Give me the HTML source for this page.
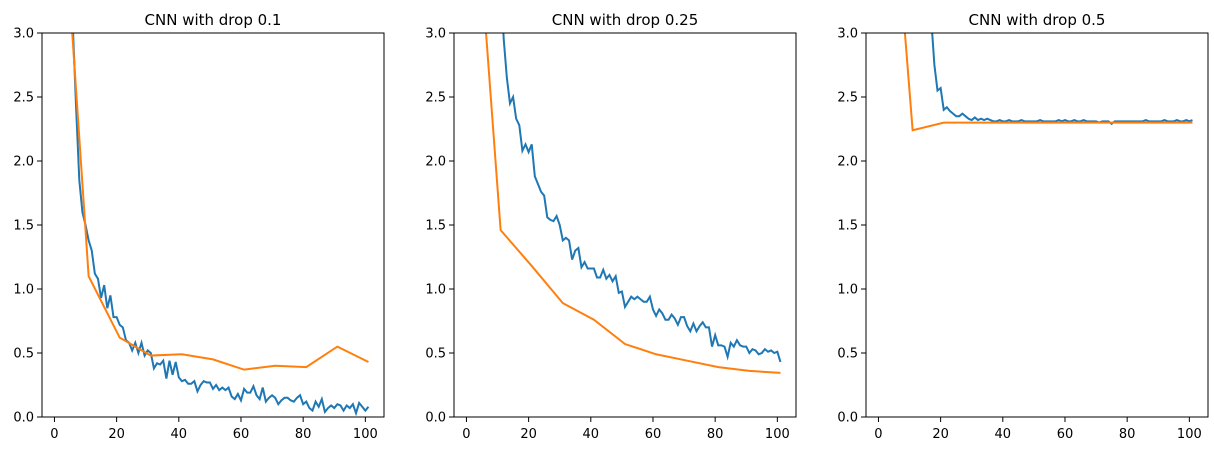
<!DOCTYPE html>
<html><head><meta charset="utf-8"><style>
body{margin:0;background:#fff}
svg text{font-family:"DejaVu Sans","Liberation Sans",sans-serif;fill:#000}
</style></head><body>
<svg id="fig" width="1214" height="451" xmlns="http://www.w3.org/2000/svg"></svg>
<script>
const titles = ["CNN with drop 0.1","CNN with drop 0.25","CNN with drop 0.5"];
const xTicks = [0,20,40,60,80,100];
const yTicks = [0,0.5,1.0,1.5,2.0,2.5,3.0];
const valX = [1,11,21,31,41,51,61,71,81,91,101];
const val1 = [4.7,1.1,0.62,0.48,0.49,0.45,0.37,0.40,0.39,0.55,0.43];
const val2 = [4.74,1.46,1.18,0.89,0.76,0.57,0.49,0.44,0.39,0.36,0.345];
const val3 = [5.3,2.24,2.30,2.30,2.30,2.30,2.30,2.30,2.30,2.30,2.30];
const train1 = [7,6,5,4,3.3,3.0,2.4,1.85,1.6,1.5,1.38,1.3,1.12,1.08,0.93,1.03,0.85,0.95,0.78,0.78,0.72,0.7,0.6,0.58,0.52,0.58,0.5,0.58,0.48,0.52,0.5,0.38,0.42,0.41,0.44,0.3,0.44,0.33,0.43,0.31,0.28,0.29,0.26,0.26,0.28,0.2,0.25,0.28,0.27,0.27,0.22,0.25,0.21,0.23,0.21,0.23,0.16,0.14,0.18,0.13,0.22,0.19,0.19,0.24,0.17,0.14,0.23,0.12,0.15,0.17,0.15,0.1,0.13,0.15,0.15,0.13,0.12,0.15,0.17,0.1,0.12,0.07,0.05,0.12,0.08,0.14,0.04,0.07,0.09,0.07,0.1,0.09,0.05,0.09,0.07,0.1,0.03,0.11,0.08,0.05,0.08];
const train2 = [9,8,7,6.5,6,5.5,5,4.6,4.2,3.8,3.4,2.95,2.65,2.45,2.5,2.33,2.28,2.08,2.13,2.07,2.13,1.88,1.82,1.76,1.73,1.56,1.54,1.53,1.57,1.5,1.38,1.4,1.38,1.23,1.3,1.32,1.17,1.21,1.16,1.16,1.16,1.09,1.09,1.15,1.08,1.11,1.06,1.1,0.97,0.98,0.86,0.9,0.94,0.92,0.94,0.92,0.9,0.9,0.94,0.84,0.79,0.84,0.81,0.76,0.76,0.8,0.77,0.72,0.78,0.78,0.71,0.67,0.73,0.67,0.71,0.74,0.7,0.7,0.55,0.64,0.56,0.56,0.55,0.47,0.58,0.55,0.6,0.56,0.55,0.55,0.5,0.53,0.52,0.49,0.5,0.53,0.51,0.52,0.5,0.51,0.43];
const train3 = [12,11,10,9.5,9,8.5,8,7.5,7,6.5,6,5.5,5,4.5,4,3.6,3.1,2.75,2.55,2.57,2.4,2.42,2.39,2.37,2.35,2.35,2.37,2.35,2.33,2.32,2.34,2.32,2.33,2.32,2.33,2.32,2.31,2.31,2.32,2.31,2.31,2.32,2.31,2.31,2.31,2.32,2.31,2.31,2.31,2.31,2.31,2.32,2.31,2.31,2.31,2.31,2.31,2.32,2.31,2.32,2.31,2.31,2.32,2.31,2.31,2.32,2.31,2.31,2.31,2.31,2.30,2.31,2.31,2.31,2.29,2.31,2.31,2.31,2.31,2.31,2.31,2.31,2.31,2.31,2.31,2.32,2.31,2.31,2.31,2.31,2.31,2.32,2.31,2.31,2.31,2.32,2.31,2.31,2.32,2.31,2.32];
const trains=[train1,train2,train3], vals=[val1,val2,val3];
const NS="http://www.w3.org/2000/svg", svgEl=document.getElementById('fig');
function mk(t,a,p){const e=document.createElementNS(NS,t);for(const k in a)e.setAttribute(k,a[k]);(p||svgEl).appendChild(e);return e;}
const lefts=[42,454,866], W=342, TOP=33, BOT=417;
for(let i=0;i<3;i++){
  const L=lefts[i];
  const sx=v=>L+(v+4)/110*W, sy=v=>BOT-v/3*(BOT-TOP);
  const g=mk('g',{});
  
  
  const cp=mk('clipPath',{id:'c'+i},g); mk('rect',{x:L,y:TOP,width:W,height:BOT-TOP},cp);
  const t=mk('text',{x:L+W/2,y:25,'text-anchor':'middle','font-size':'15'},g);t.textContent=titles[i];
  
  
  xTicks.forEach(v=>{mk('line',{x1:sx(v),x2:sx(v),y1:BOT,y2:BOT+5,stroke:'#000','stroke-width':1},g);
    const tx=mk('text',{x:sx(v),y:BOT+21,'text-anchor':'middle','font-size':'13'},g);tx.textContent=v;
    
    });
  yTicks.forEach(v=>{mk('line',{x1:L-5,x2:L,y1:sy(v),y2:sy(v),stroke:'#000','stroke-width':1},g);
    const ty=mk('text',{x:L-8,y:sy(v)+4.5,'text-anchor':'end','font-size':'13'},g);ty.textContent=v.toFixed(1);
    
    });
  const tp=mk('polyline',{points:trains[i].map((v,j)=>sx(j+1)+','+sy(v)).join(' '),fill:'none',stroke:'#1f77b4','stroke-width':2,'clip-path':'url(#c'+i+')'},g);
  
  
  const vp=mk('polyline',{points:vals[i].map((v,j)=>sx(valX[j])+','+sy(v)).join(' '),fill:'none',stroke:'#ff7f0e','stroke-width':2,'clip-path':'url(#c'+i+')'},g);
  
  
  mk('rect',{x:L,y:TOP,width:W,height:BOT-TOP,fill:'none',stroke:'#000','stroke-width':1},g);
}
</script>
</body></html>
